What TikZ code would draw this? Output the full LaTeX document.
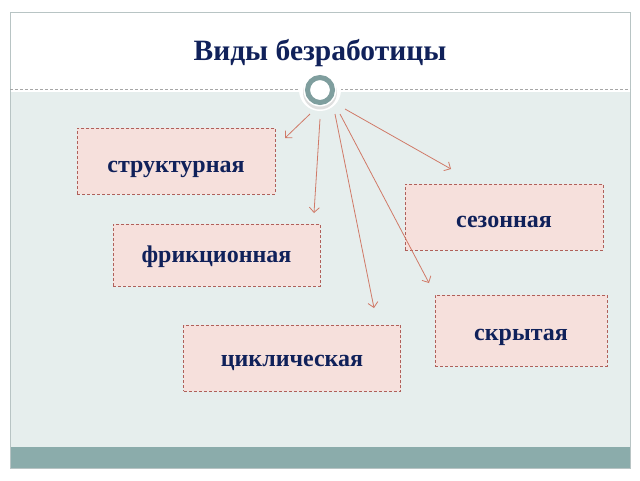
\documentclass[tikz,border=0pt]{standalone}
\usepackage{fontspec}
\setmainfont{Liberation Serif}
\usetikzlibrary{arrows.meta}
\definecolor{bgpale}{HTML}{E6EEED}
\definecolor{band}{HTML}{8BACAB}
\definecolor{boxfill}{HTML}{F6E0DC}
\definecolor{boxline}{HTML}{B0605A}
\definecolor{arrowc}{HTML}{D07A68}
\definecolor{navy}{HTML}{10215A}
\definecolor{ringc}{HTML}{7F9E9E}
\definecolor{framec}{HTML}{B8C4C4}
\tikzset{
  kind/.style={draw=boxline, fill=boxfill, densely dashed, line width=0.7pt, inner sep=0pt},
  kindtext/.style={font=\fontsize{24}{28}\selectfont\bfseries, text=navy, inner sep=0pt, anchor=base},
  ray/.style={draw=arrowc, line width=0.8pt, -{Straight Barb[length=5pt,width=10pt]}},
}
\begin{document}
\begin{tikzpicture}[x=1pt,y=-1pt]
\useasboundingbox (0,0) rectangle (640,480);
\fill[white] (0,0) rectangle (640,480);
% slide regions
\fill[bgpale] (10,92) rectangle (630,447);
\fill[band] (10,447) rectangle (630,468);
\draw[framec, line width=0.6pt] (10,12) rectangle (630,468);
\draw[gray!70, densely dashed, line width=0.5pt] (10,89) -- (300,89);
\draw[gray!70, densely dashed, line width=0.5pt] (340,89) -- (630,89);
% title
\node[font=\fontsize{29.5}{34}\selectfont\bfseries, text=navy, anchor=base, inner sep=0pt] (title) at (320,60) {Виды безработицы};
% hub circle
\fill[white] (320,90) circle (21);
\fill[gray!25] (320,92.5) circle (17);
\fill[white] (320,90) circle (16.5);
\draw[ringc, line width=5pt] (320,90) circle (12.5);
\coordinate (hub) at (320,90);
\coordinate (s1) at (310,114);
\coordinate (s2) at (320,119);
\coordinate (s3) at (335,114);
\coordinate (s4) at (340,114);
\coordinate (s5) at (345,109);
\coordinate (e1) at (285,138);
\coordinate (e2) at (314,213);
\coordinate (e3) at (374,308);
\coordinate (e4) at (429,283);
\coordinate (e5) at (451,169);
% boxes
\node[kind, minimum width=198, minimum height=66] (struct) at (176,161) {};
\node[kind, minimum width=198, minimum height=66] (season) at (504,217) {};
\node[kind, minimum width=207, minimum height=62] (friction) at (216.5,255) {};
\node[kind, minimum width=172, minimum height=71] (hidden) at (521,330.5) {};
\node[kind, minimum width=217, minimum height=66] (cyclic) at (292,358) {};
\node[kindtext] (structT) at (176,172) {структурная};
\node[kindtext] (seasonT) at (504,227.5) {сезонная};
\node[kindtext] (frictionT) at (216.5,262.5) {фрикционная};
\node[kindtext] (hiddenT) at (521,340.5) {скрытая};
\node[kindtext] (cyclicT) at (292,366.5) {циклическая};
% rays
\draw[ray] (s1) -- (e1);
\draw[ray] (s2) -- (e2);
\draw[ray] (s3) -- (e3);
\draw[ray] (s4) -- (e4);
\draw[ray] (s5) -- (e5);
\end{tikzpicture}
\end{document}
